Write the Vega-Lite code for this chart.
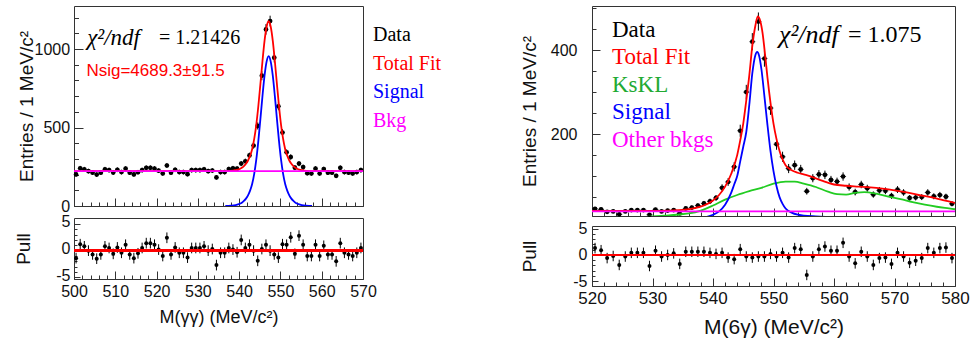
{
"$schema": "https://vega.github.io/schema/vega-lite/v6.json",
"background": "white",
"padding": {"left": 14, "top": 5, "right": 0, "bottom": 0},
"config": {
  "view": {"stroke": "#333333", "strokeWidth": 1},
  "font": "Liberation Sans",
  "axis": {"domain": false, "grid": false, "tickColor": "#333333", "tickWidth": 1, "labelFont": "Liberation Sans", "labelColor": "#111111", "titleFont": "Liberation Sans", "titleFontWeight": "normal", "titleColor": "#111111", "labelFlush": false, "labelOverlap": false, "labelBound": false},
  "legend": {"labelFont": "Liberation Serif"}
},
"datasets": {
  "leftData": [
    {"x":500.5,"y":201,"e":14.2},{"x":501.5,"y":240,"e":15.5},{"x":502.5,"y":234,"e":15.3},{"x":503.5,"y":222,"e":14.9},{"x":504.5,"y":212,"e":14.6},
    {"x":505.5,"y":200,"e":14.1},{"x":506.5,"y":212,"e":14.6},{"x":507.5,"y":234,"e":15.3},{"x":508.5,"y":229,"e":15.1},{"x":509.5,"y":213,"e":14.6},
    {"x":510.5,"y":231,"e":15.2},{"x":511.5,"y":216,"e":14.7},{"x":512.5,"y":238,"e":15.4},{"x":513.5,"y":212,"e":14.6},{"x":514.5,"y":201,"e":14.2},
    {"x":515.5,"y":215,"e":14.7},{"x":516.5,"y":229,"e":15.1},{"x":517.5,"y":243,"e":15.6},{"x":518.5,"y":243,"e":15.6},{"x":519.5,"y":238,"e":15.4},
    {"x":520.5,"y":225,"e":15.0},{"x":521.5,"y":207,"e":14.4},{"x":522.5,"y":258,"e":16.1},{"x":523.5,"y":212,"e":14.6},{"x":524.5,"y":231,"e":15.2},
    {"x":525.5,"y":216,"e":14.7},{"x":526.5,"y":216,"e":14.7},{"x":527.5,"y":203,"e":14.2},{"x":528.5,"y":229,"e":15.1},{"x":529.5,"y":229,"e":15.1},
    {"x":530.5,"y":229,"e":15.1},{"x":531.5,"y":234,"e":15.3},{"x":532.5,"y":222,"e":14.9},{"x":533.5,"y":226,"e":15.0},{"x":534.5,"y":182,"e":13.5},
    {"x":535.5,"y":216,"e":14.7},{"x":536.5,"y":216,"e":14.7},{"x":537.5,"y":235,"e":15.3},{"x":538.5,"y":240,"e":15.5},{"x":539.5,"y":238,"e":15.4},
    {"x":540.5,"y":270,"e":16.4},{"x":541.5,"y":285,"e":16.9},{"x":542.5,"y":322,"e":17.9},{"x":543.5,"y":385,"e":19.6},{"x":544.5,"y":510,"e":22.6},
    {"x":545.5,"y":830,"e":28.8},{"x":546.5,"y":1125,"e":33.5},{"x":547.5,"y":1178,"e":34.3},{"x":548.5,"y":945,"e":30.7},{"x":549.5,"y":635,"e":25.2},
    {"x":550.5,"y":468,"e":21.6},{"x":551.5,"y":342,"e":18.5},{"x":552.5,"y":312,"e":17.7},{"x":553.5,"y":244,"e":15.6},{"x":554.5,"y":270,"e":16.4},
    {"x":555.5,"y":248,"e":15.7},{"x":556.5,"y":209,"e":14.5},{"x":557.5,"y":207,"e":14.4},{"x":558.5,"y":238,"e":15.4},{"x":559.5,"y":207,"e":14.4},
    {"x":560.5,"y":235,"e":15.3},{"x":561.5,"y":212,"e":14.6},{"x":562.5,"y":212,"e":14.6},{"x":563.5,"y":192,"e":13.9},{"x":564.5,"y":243,"e":15.6},
    {"x":565.5,"y":216,"e":14.7},{"x":566.5,"y":212,"e":14.6},{"x":567.5,"y":207,"e":14.4},{"x":568.5,"y":216,"e":14.7},{"x":569.5,"y":229,"e":15.1}
  ],
  "leftPull": [
    {"x":500.5,"y":-1.4,"e":1},{"x":501.5,"y":1.2,"e":1},{"x":502.5,"y":0.8,"e":1},{"x":503.5,"y":0,"e":1},{"x":504.5,"y":-0.7,"e":1},
    {"x":505.5,"y":-1.5,"e":1},{"x":506.5,"y":-0.7,"e":1},{"x":507.5,"y":0.8,"e":1},{"x":508.5,"y":0.5,"e":1},{"x":509.5,"y":-0.6,"e":1},
    {"x":510.5,"y":0.6,"e":1},{"x":511.5,"y":-0.4,"e":1},{"x":512.5,"y":1.1,"e":1},{"x":513.5,"y":-0.7,"e":1},{"x":514.5,"y":-1.4,"e":1},
    {"x":515.5,"y":-0.5,"e":1},{"x":516.5,"y":0.5,"e":1},{"x":517.5,"y":1.4,"e":1},{"x":518.5,"y":1.4,"e":1},{"x":519.5,"y":1.1,"e":1},
    {"x":520.5,"y":0.2,"e":1},{"x":521.5,"y":-1.0,"e":1},{"x":522.5,"y":2.4,"e":1},{"x":523.5,"y":-0.7,"e":1},{"x":524.5,"y":0.6,"e":1},
    {"x":525.5,"y":-0.4,"e":1},{"x":526.5,"y":-0.4,"e":1},{"x":527.5,"y":-1.3,"e":1},{"x":528.5,"y":0.5,"e":1},{"x":529.5,"y":0.5,"e":1},
    {"x":530.5,"y":0.5,"e":1},{"x":531.5,"y":0.8,"e":1},{"x":532.5,"y":0,"e":1},{"x":533.5,"y":0.3,"e":1},{"x":534.5,"y":-2.7,"e":1},
    {"x":535.5,"y":-0.4,"e":1},{"x":536.5,"y":-0.4,"e":1},{"x":537.5,"y":0.5,"e":1},{"x":538.5,"y":0.2,"e":1},{"x":539.5,"y":-0.3,"e":1},
    {"x":540.5,"y":2.0,"e":1},{"x":541.5,"y":0.5,"e":1},{"x":542.5,"y":1.1,"e":1},{"x":543.5,"y":0,"e":1},{"x":544.5,"y":-1.9,"e":1},
    {"x":545.5,"y":0.3,"e":1},{"x":546.5,"y":1.1,"e":1},{"x":547.5,"y":0,"e":1},{"x":548.5,"y":-0.7,"e":1},{"x":549.5,"y":-1.3,"e":1},
    {"x":550.5,"y":1.2,"e":1},{"x":551.5,"y":1.1,"e":1},{"x":552.5,"y":2.5,"e":1},{"x":553.5,"y":-0.6,"e":1},{"x":554.5,"y":2.8,"e":1},
    {"x":555.5,"y":1.1,"e":1},{"x":556.5,"y":-1.0,"e":1},{"x":557.5,"y":-1.0,"e":1},{"x":558.5,"y":1.1,"e":1},{"x":559.5,"y":-1.0,"e":1},
    {"x":560.5,"y":0.9,"e":1},{"x":561.5,"y":-0.7,"e":1},{"x":562.5,"y":-0.7,"e":1},{"x":563.5,"y":-2.0,"e":1},{"x":564.5,"y":1.4,"e":1},
    {"x":565.5,"y":-0.4,"e":1},{"x":566.5,"y":-0.7,"e":1},{"x":567.5,"y":-1.0,"e":1},{"x":568.5,"y":-0.4,"e":1},{"x":569.5,"y":0.5,"e":1}
  ],
  "leftCurves": [
    {"x":500,"y":222,"series":"Total Fit"},{"x":536.65,"y":222,"series":"Total Fit"},{"x":537.15,"y":222.5,"series":"Total Fit"},{"x":538.15,"y":224,"series":"Total Fit"},
    {"x":539.15,"y":228,"series":"Total Fit"},{"x":540.15,"y":236,"series":"Total Fit"},{"x":540.65,"y":243,"series":"Total Fit"},{"x":541.15,"y":254,"series":"Total Fit"},
    {"x":541.65,"y":269,"series":"Total Fit"},{"x":542.15,"y":290,"series":"Total Fit"},{"x":542.65,"y":320,"series":"Total Fit"},{"x":543.15,"y":362,"series":"Total Fit"},
    {"x":543.65,"y":427,"series":"Total Fit"},{"x":544.15,"y":517,"series":"Total Fit"},{"x":544.65,"y":637,"series":"Total Fit"},{"x":545.15,"y":777,"series":"Total Fit"},
    {"x":545.65,"y":922,"series":"Total Fit"},{"x":546.15,"y":1052,"series":"Total Fit"},{"x":546.65,"y":1142,"series":"Total Fit"},{"x":547.15,"y":1177,"series":"Total Fit"},
    {"x":547.65,"y":1142,"series":"Total Fit"},{"x":548.15,"y":1052,"series":"Total Fit"},{"x":548.65,"y":922,"series":"Total Fit"},{"x":549.15,"y":777,"series":"Total Fit"},
    {"x":549.65,"y":637,"series":"Total Fit"},{"x":550.15,"y":517,"series":"Total Fit"},{"x":550.65,"y":427,"series":"Total Fit"},{"x":551.15,"y":362,"series":"Total Fit"},
    {"x":551.65,"y":320,"series":"Total Fit"},{"x":552.15,"y":290,"series":"Total Fit"},{"x":552.65,"y":269,"series":"Total Fit"},{"x":553.15,"y":254,"series":"Total Fit"},
    {"x":553.65,"y":243,"series":"Total Fit"},{"x":554.15,"y":236,"series":"Total Fit"},{"x":555.15,"y":228,"series":"Total Fit"},{"x":556.15,"y":224,"series":"Total Fit"},
    {"x":557.15,"y":222.5,"series":"Total Fit"},{"x":557.65,"y":222,"series":"Total Fit"},{"x":570,"y":222,"series":"Total Fit"},
    {"x":536.65,"y":0,"series":"Signal"},{"x":537.15,"y":0.5,"series":"Signal"},{"x":538.15,"y":2,"series":"Signal"},{"x":539.15,"y":6,"series":"Signal"},
    {"x":540.15,"y":14,"series":"Signal"},{"x":540.65,"y":21,"series":"Signal"},{"x":541.15,"y":32,"series":"Signal"},{"x":541.65,"y":47,"series":"Signal"},
    {"x":542.15,"y":68,"series":"Signal"},{"x":542.65,"y":98,"series":"Signal"},{"x":543.15,"y":140,"series":"Signal"},{"x":543.65,"y":205,"series":"Signal"},
    {"x":544.15,"y":295,"series":"Signal"},{"x":544.65,"y":415,"series":"Signal"},{"x":545.15,"y":555,"series":"Signal"},{"x":545.65,"y":700,"series":"Signal"},
    {"x":546.15,"y":830,"series":"Signal"},{"x":546.65,"y":920,"series":"Signal"},{"x":547.15,"y":955,"series":"Signal"},{"x":547.65,"y":920,"series":"Signal"},
    {"x":548.15,"y":830,"series":"Signal"},{"x":548.65,"y":700,"series":"Signal"},{"x":549.15,"y":555,"series":"Signal"},{"x":549.65,"y":415,"series":"Signal"},
    {"x":550.15,"y":295,"series":"Signal"},{"x":550.65,"y":205,"series":"Signal"},{"x":551.15,"y":140,"series":"Signal"},{"x":551.65,"y":98,"series":"Signal"},
    {"x":552.15,"y":68,"series":"Signal"},{"x":552.65,"y":47,"series":"Signal"},{"x":553.15,"y":32,"series":"Signal"},{"x":553.65,"y":21,"series":"Signal"},
    {"x":554.15,"y":14,"series":"Signal"},{"x":555.15,"y":6,"series":"Signal"},{"x":556.15,"y":2,"series":"Signal"},{"x":557.15,"y":0.5,"series":"Signal"},
    {"x":557.65,"y":0,"series":"Signal"},
    {"x":500,"y":222,"series":"Bkg"},{"x":570,"y":222,"series":"Bkg"}
  ],
  "rightData": [
    {"x":520.5,"y":22,"e":4.7},{"x":521.5,"y":21,"e":4.6},{"x":522.5,"y":15,"e":3.9},{"x":523.5,"y":16,"e":4.0},{"x":524.5,"y":9,"e":3.0},
    {"x":525.5,"y":16,"e":4.0},{"x":526.5,"y":19,"e":4.4},{"x":527.5,"y":19,"e":4.4},{"x":528.5,"y":19,"e":4.4},{"x":529.5,"y":8,"e":2.8},
    {"x":530.5,"y":20,"e":4.5},{"x":531.5,"y":16,"e":4.0},{"x":532.5,"y":18,"e":4.2},{"x":533.5,"y":19,"e":4.4},{"x":534.5,"y":11,"e":3.3},
    {"x":535.5,"y":23,"e":4.8},{"x":536.5,"y":25,"e":5.0},{"x":537.5,"y":30,"e":5.5},{"x":538.5,"y":35,"e":5.9},{"x":539.5,"y":40,"e":6.3},
    {"x":540.5,"y":48,"e":6.9},{"x":541.5,"y":72,"e":8.5},{"x":542.5,"y":86,"e":9.3},{"x":543.5,"y":122,"e":11.0},{"x":544.5,"y":208,"e":14.4},
    {"x":545.5,"y":300,"e":17.3},{"x":546.5,"y":420,"e":20.5},{"x":547.5,"y":468,"e":21.6},{"x":548.5,"y":380,"e":19.5},{"x":549.5,"y":262,"e":16.2},
    {"x":550.5,"y":176,"e":13.3},{"x":551.5,"y":146,"e":12.1},{"x":552.5,"y":118,"e":10.9},{"x":553.5,"y":126,"e":11.2},{"x":554.5,"y":116,"e":10.8},
    {"x":555.5,"y":64,"e":8.0},{"x":556.5,"y":95,"e":9.7},{"x":557.5,"y":104,"e":10.2},{"x":558.5,"y":103,"e":10.1},{"x":559.5,"y":91,"e":9.5},
    {"x":560.5,"y":87,"e":9.3},{"x":561.5,"y":99,"e":9.9},{"x":562.5,"y":74,"e":8.6},{"x":563.5,"y":62,"e":7.9},{"x":564.5,"y":80,"e":8.9},
    {"x":565.5,"y":71,"e":8.4},{"x":566.5,"y":56,"e":7.5},{"x":567.5,"y":66,"e":8.1},{"x":568.5,"y":65,"e":8.1},{"x":569.5,"y":53,"e":7.3},
    {"x":570.5,"y":68,"e":8.2},{"x":571.5,"y":61,"e":7.8},{"x":572.5,"y":48,"e":6.9},{"x":573.5,"y":49,"e":7.0},{"x":574.5,"y":50,"e":7.1},
    {"x":575.5,"y":61,"e":7.8},{"x":576.5,"y":52,"e":7.2},{"x":577.5,"y":55,"e":7.4},{"x":578.5,"y":51,"e":7.1},{"x":579.5,"y":34,"e":5.8}
  ],
  "rightPull": [
    {"x":520.5,"y":1.3,"e":1},{"x":521.5,"y":0.9,"e":1},{"x":522.5,"y":-0.6,"e":1},{"x":523.5,"y":-0.2,"e":1},{"x":524.5,"y":-1.9,"e":1},
    {"x":525.5,"y":-0.3,"e":1},{"x":526.5,"y":0.4,"e":1},{"x":527.5,"y":0.4,"e":1},{"x":528.5,"y":0.4,"e":1},{"x":529.5,"y":-2.1,"e":1},
    {"x":530.5,"y":0.8,"e":1},{"x":531.5,"y":-0.3,"e":1},{"x":532.5,"y":0,"e":1},{"x":533.5,"y":0.3,"e":1},{"x":534.5,"y":-1.7,"e":1},
    {"x":535.5,"y":0.6,"e":1},{"x":536.5,"y":0.6,"e":1},{"x":537.5,"y":0.6,"e":1},{"x":538.5,"y":0.6,"e":1},{"x":539.5,"y":0.4,"e":1},
    {"x":540.5,"y":0.2,"e":1},{"x":541.5,"y":0.4,"e":1},{"x":542.5,"y":-0.5,"e":1},{"x":543.5,"y":-0.8,"e":1},{"x":544.5,"y":1.1,"e":1},
    {"x":545.5,"y":-0.3,"e":1},{"x":546.5,"y":-0.5,"e":1},{"x":547.5,"y":-0.3,"e":1},{"x":548.5,"y":-0.3,"e":1},{"x":549.5,"y":0.2,"e":1},
    {"x":550.5,"y":-0.3,"e":1},{"x":551.5,"y":0.4,"e":1},{"x":552.5,"y":-0.5,"e":1},{"x":553.5,"y":1.3,"e":1},{"x":554.5,"y":1.1,"e":1},
    {"x":555.5,"y":-3.8,"e":1},{"x":556.5,"y":-0.3,"e":1},{"x":557.5,"y":1.1,"e":1},{"x":558.5,"y":1.6,"e":1},{"x":559.5,"y":0.8,"e":1},
    {"x":560.5,"y":0.8,"e":1},{"x":561.5,"y":2.3,"e":1},{"x":562.5,"y":-0.3,"e":1},{"x":563.5,"y":-1.6,"e":1},{"x":564.5,"y":0.6,"e":1},
    {"x":565.5,"y":-0.3,"e":1},{"x":566.5,"y":-1.9,"e":1},{"x":567.5,"y":-0.6,"e":1},{"x":568.5,"y":-0.5,"e":1},{"x":569.5,"y":-1.7,"e":1},
    {"x":570.5,"y":0.4,"e":1},{"x":571.5,"y":-0.3,"e":1},{"x":572.5,"y":-1.5,"e":1},{"x":573.5,"y":-1.1,"e":1},{"x":574.5,"y":-0.6,"e":1},
    {"x":575.5,"y":1.3,"e":1},{"x":576.5,"y":0.4,"e":1},{"x":577.5,"y":1.3,"e":1},{"x":578.5,"y":1.4,"e":1},{"x":579.5,"y":-0.6,"e":1}
  ],
  "rightCurves": [
    {"x":520,"y":17,"series":"Total Fit"},{"x":530,"y":17,"series":"Total Fit"},{"x":533,"y":18,"series":"Total Fit"},{"x":535,"y":19.5,"series":"Total Fit"},
    {"x":537,"y":24,"series":"Total Fit"},{"x":538.5,"y":30,"series":"Total Fit"},{"x":540,"y":42,"series":"Total Fit"},{"x":541,"y":55,"series":"Total Fit"},
    {"x":542,"y":75,"series":"Total Fit"},{"x":543,"y":105,"series":"Total Fit"},{"x":544,"y":150,"series":"Total Fit"},{"x":544.5,"y":185,"series":"Total Fit"},
    {"x":545,"y":225,"series":"Total Fit"},{"x":545.5,"y":280,"series":"Total Fit"},{"x":546,"y":340,"series":"Total Fit"},{"x":546.5,"y":410,"series":"Total Fit"},
    {"x":547,"y":458,"series":"Total Fit"},{"x":547.4,"y":480,"series":"Total Fit"},{"x":547.8,"y":470,"series":"Total Fit"},{"x":548.2,"y":440,"series":"Total Fit"},
    {"x":548.6,"y":390,"series":"Total Fit"},{"x":549,"y":335,"series":"Total Fit"},{"x":549.5,"y":275,"series":"Total Fit"},{"x":550,"y":225,"series":"Total Fit"},
    {"x":550.5,"y":188,"series":"Total Fit"},{"x":551,"y":160,"series":"Total Fit"},{"x":551.5,"y":140,"series":"Total Fit"},{"x":552,"y":126,"series":"Total Fit"},
    {"x":553,"y":114,"series":"Total Fit"},{"x":554,"y":108,"series":"Total Fit"},{"x":555,"y":104,"series":"Total Fit"},{"x":556,"y":100,"series":"Total Fit"},
    {"x":558,"y":89,"series":"Total Fit"},{"x":560,"y":80,"series":"Total Fit"},{"x":562,"y":77,"series":"Total Fit"},{"x":564,"y":75,"series":"Total Fit"},
    {"x":566,"y":73,"series":"Total Fit"},{"x":568,"y":70,"series":"Total Fit"},{"x":570,"y":66,"series":"Total Fit"},{"x":572,"y":61,"series":"Total Fit"},
    {"x":574,"y":55,"series":"Total Fit"},{"x":576,"y":50,"series":"Total Fit"},{"x":578,"y":43,"series":"Total Fit"},{"x":580,"y":36,"series":"Total Fit"},
    {"x":527,"y":0,"series":"KsKL"},{"x":530,"y":4,"series":"KsKL"},{"x":532,"y":6,"series":"KsKL"},{"x":534,"y":8,"series":"KsKL"},
    {"x":536,"y":11,"series":"KsKL"},{"x":538,"y":18,"series":"KsKL"},{"x":540,"y":30,"series":"KsKL"},{"x":542,"y":44,"series":"KsKL"},
    {"x":544,"y":55,"series":"KsKL"},{"x":546,"y":64,"series":"KsKL"},{"x":548,"y":72,"series":"KsKL"},{"x":550,"y":82,"series":"KsKL"},
    {"x":552,"y":87,"series":"KsKL"},{"x":553.5,"y":87,"series":"KsKL"},{"x":555,"y":82,"series":"KsKL"},{"x":557,"y":74,"series":"KsKL"},
    {"x":559,"y":63,"series":"KsKL"},{"x":560.5,"y":57,"series":"KsKL"},{"x":562,"y":56,"series":"KsKL"},{"x":563.5,"y":60,"series":"KsKL"},
    {"x":565,"y":62,"series":"KsKL"},{"x":567,"y":58,"series":"KsKL"},{"x":569,"y":51,"series":"KsKL"},{"x":571,"y":45,"series":"KsKL"},
    {"x":573,"y":38,"series":"KsKL"},{"x":575,"y":32,"series":"KsKL"},{"x":577,"y":27,"series":"KsKL"},{"x":579,"y":23,"series":"KsKL"},
    {"x":580,"y":21,"series":"KsKL"},
    {"x":537.5,"y":0,"series":"Signal"},{"x":539,"y":3,"series":"Signal"},{"x":540,"y":8,"series":"Signal"},{"x":541,"y":16,"series":"Signal"},
    {"x":542,"y":32,"series":"Signal"},{"x":543,"y":60,"series":"Signal"},{"x":543.5,"y":80,"series":"Signal"},{"x":544,"y":100,"series":"Signal"},
    {"x":544.5,"y":135,"series":"Signal"},{"x":545,"y":170,"series":"Signal"},{"x":545.5,"y":205,"series":"Signal"},{"x":546,"y":270,"series":"Signal"},
    {"x":546.5,"y":345,"series":"Signal"},{"x":547,"y":388,"series":"Signal"},{"x":547.3,"y":396,"series":"Signal"},{"x":547.6,"y":388,"series":"Signal"},
    {"x":548,"y":355,"series":"Signal"},{"x":548.5,"y":290,"series":"Signal"},{"x":549,"y":222,"series":"Signal"},{"x":549.5,"y":160,"series":"Signal"},
    {"x":550,"y":112,"series":"Signal"},{"x":550.5,"y":76,"series":"Signal"},{"x":551,"y":50,"series":"Signal"},{"x":551.5,"y":34,"series":"Signal"},
    {"x":552,"y":23,"series":"Signal"},{"x":553,"y":13,"series":"Signal"},{"x":554,"y":8,"series":"Signal"},{"x":555,"y":6,"series":"Signal"},
    {"x":557,"y":4,"series":"Signal"},{"x":560,"y":2,"series":"Signal"},{"x":562.5,"y":0,"series":"Signal"},
    {"x":520,"y":16,"series":"Other bkgs"},{"x":580,"y":16,"series":"Other bkgs"}
  ]
},
"hconcat": [
  {
    "vconcat": [
      {
        "width": 289, "height": 200,
        "resolve": {"axis": {"x": "independent", "y": "independent"}},
        "layer": [
          {"data": {"name": "leftData"}, "mark": {"type": "errorbar", "color": "black", "thickness": 1},
           "encoding": {
             "x": {"field": "x", "type": "quantitative", "scale": {"domain": [500, 570], "nice": false, "zero": false},
                   "axis": {"orient": "bottom", "title": null, "labels": false, "tickSize": -4,
                            "values": [500,502,504,506,508,510,512,514,516,518,520,522,524,526,528,530,532,534,536,538,540,542,544,546,548,550,552,554,556,558,560,562,564,566,568,570]}},
             "y": {"field": "y", "type": "quantitative", "scale": {"domain": [0, 1274], "nice": false, "zero": false},
                   "axis": {"orient": "left", "title": null, "labels": false, "tickSize": -4.5, "values": [0,100,200,300,400,500,600,700,800,900,1000,1100,1200]}},
             "yError": {"field": "e"}}},
          {"data": {"name": "leftData"}, "mark": {"type": "circle", "size": 22, "opacity": 1},
           "encoding": {
             "x": {"field": "x", "type": "quantitative",
                   "axis": {"orient": "bottom", "title": null, "labels": false, "tickSize": -8, "values": [500,510,520,530,540,550,560,570]}},
             "y": {"field": "y", "type": "quantitative",
                   "axis": {"orient": "left", "title": "Entries / 1 MeV/c²", "titleFontSize": 19, "titlePadding": -2, "labelFontSize": 16, "labelPadding": 13.4, "labelOverlap": false, "labelFlush": false, "labelBound": false,
                            "tickSize": -9, "values": [0, 500, 1000], "labelExpr": "'' + datum.value"}},
             "color": {"datum": "Data", "type": "nominal",
             "scale": {"domain": ["Data", "Total Fit", "Signal", "Bkg"], "range": ["#000000", "#ff0000", "#0000ff", "#ff00ff"]},
             "legend": {"title": null, "orient": "right", "offset": -43, "padding": 19, "symbolType": "circle", "symbolSize": 0, "symbolStrokeWidth": 0, "symbolOpacity": 0, "labelOffset": 0, "labelFont": "Liberation Serif", "labelFontSize": 20, "labelLimit": 400, "rowPadding": 8.5,
               "encoding": {"labels": {"fill": {"condition": [{"test": "datum.label === 'Total Fit'", "value": "#ff0000"}, {"test": "datum.label === 'Signal'", "value": "#0000ff"}, {"test": "datum.label === 'Bkg'", "value": "#ff00ff"}], "value": "#000000"}}}}}}},
          {"data": {"name": "leftData"}, "mark": {"type": "tick", "orient": "horizontal", "size": 4, "thickness": 1, "color": "black"},
           "encoding": {"x": {"field": "x", "type": "quantitative", "axis": null}, "y": {"field": "y", "type": "quantitative", "axis": null}}},
          {"data": {"name": "leftCurves"}, "mark": {"type": "line", "strokeWidth": 1.8, "interpolate": "monotone", "clip": true},
           "encoding": {"x": {"field": "x", "type": "quantitative", "axis": null}, "y": {"field": "y", "type": "quantitative", "axis": null},
             "color": {"field": "series", "type": "nominal",
             "scale": {"domain": ["Data", "Total Fit", "Signal", "Bkg"], "range": ["#000000", "#ff0000", "#0000ff", "#ff00ff"]},
             "legend": {"title": null, "orient": "right", "offset": -43, "padding": 19, "symbolType": "circle", "symbolSize": 0, "symbolStrokeWidth": 0, "symbolOpacity": 0, "labelOffset": 0, "labelFont": "Liberation Serif", "labelFontSize": 20, "labelLimit": 400, "rowPadding": 8.5,
               "encoding": {"labels": {"fill": {"condition": [{"test": "datum.label === 'Total Fit'", "value": "#ff0000"}, {"test": "datum.label === 'Signal'", "value": "#0000ff"}, {"test": "datum.label === 'Bkg'", "value": "#ff00ff"}], "value": "#000000"}}}}}}},
          {"data": {"values": [{"label": "χ²/ndf"}]}, "mark": {"type": "text", "font": "Liberation Serif", "fontStyle": "italic", "fontSize": 23, "align": "left", "baseline": "middle", "color": "#000000"},
           "encoding": {"x": {"datum": 503.2, "axis": null}, "y": {"datum": 1070, "axis": null}, "text": {"field": "label"}}},
          {"data": {"values": [{"label": "= 1.21426"}]}, "mark": {"type": "text", "font": "Liberation Serif", "fontSize": 20, "align": "left", "baseline": "middle", "color": "#000000"},
           "encoding": {"x": {"datum": 520.6, "axis": null}, "y": {"datum": 1070, "axis": null}, "text": {"field": "label"}}},
          {"data": {"values": [{"label": "Nsig=4689.3±91.5"}]}, "mark": {"type": "text", "font": "Liberation Sans", "fontSize": 17, "align": "left", "baseline": "middle", "color": "#ff0000"},
           "encoding": {"x": {"datum": 503.0, "axis": null}, "y": {"datum": 860, "axis": null}, "text": {"field": "label"}}}
        ]
      },
      {
        "width": 289, "height": 61,
        "data": {"name": "leftPull"},
        "resolve": {"axis": {"x": "independent", "y": "independent"}},
        "layer": [
          {"mark": {"type": "errorbar", "color": "black", "thickness": 1},
           "encoding": {
             "x": {"field": "x", "type": "quantitative", "scale": {"domain": [500, 570], "nice": false, "zero": false},
                   "axis": {"orient": "bottom", "title": null, "labels": false, "tickSize": -4,
                            "values": [500,502,504,506,508,510,512,514,516,518,520,522,524,526,528,530,532,534,536,538,540,542,544,546,548,550,552,554,556,558,560,562,564,566,568,570]}},
             "y": {"field": "y", "type": "quantitative", "scale": {"domain": [-5.3, 6.1], "nice": false, "zero": false},
                   "axis": {"orient": "left", "title": null, "labels": false, "tickSize": -3, "values": [-5,-4,-3,-2,-1,0,1,2,3,4,5]}},
             "yError": {"field": "e"}}},
          {"mark": {"type": "circle", "size": 16, "color": "#000000", "opacity": 1},
           "encoding": {
             "x": {"field": "x", "type": "quantitative",
                   "axis": {"orient": "bottom", "title": "M(γγ) (MeV/c²)", "titleFontSize": 18, "titlePadding": 9, "labelFontSize": 16, "labelPadding": 12, "labelOverlap": false, "labelFlush": false, "labelBound": false,
                            "tickSize": -8, "values": [500,510,520,530,540,550,560,570], "labelExpr": "'' + datum.value"}},
             "y": {"field": "y", "type": "quantitative",
                   "axis": {"orient": "left", "title": "Pull", "titleFontSize": 19, "titlePadding": 22, "labelFontSize": 16, "labelPadding": 10, "labelOffset": -2, "labelOverlap": false, "labelFlush": false, "labelBound": false,
                            "tickSize": -6, "values": [-5, 0, 5], "labelExpr": "'' + datum.value"}}}},
          {"mark": {"type": "rule", "color": "#ff0000", "strokeWidth": 2}, "encoding": {"y": {"datum": 0, "axis": null}}}
        ]
      }
    ],
    "spacing": 12,
    "bounds": "flush",
    "resolve": {"scale": {"x": "independent", "y": "independent"}}
  },
  {
    "vconcat": [
      {
        "width": 363, "height": 210,
        "resolve": {"axis": {"x": "independent", "y": "independent"}},
        "layer": [
          {"data": {"name": "rightData"}, "mark": {"type": "errorbar", "color": "black", "thickness": 1},
           "encoding": {
             "x": {"field": "x", "type": "quantitative", "scale": {"domain": [520, 580], "nice": false, "zero": false},
                   "axis": {"orient": "bottom", "title": null, "labels": false, "tickSize": -4,
                            "values": [520,522,524,526,528,530,532,534,536,538,540,542,544,546,548,550,552,554,556,558,560,562,564,566,568,570,572,574,576,578,580]}},
             "y": {"field": "y", "type": "quantitative", "scale": {"domain": [5, 505], "nice": false, "zero": false},
                   "axis": {"orient": "left", "title": null, "labels": false, "tickSize": -4, "values": [50,100,150,200,250,300,350,400,450,500]}},
             "yError": {"field": "e"}}},
          {"data": {"name": "rightData"}, "mark": {"type": "circle", "size": 22, "opacity": 1},
           "encoding": {
             "x": {"field": "x", "type": "quantitative",
                   "axis": {"orient": "bottom", "title": null, "labels": false, "tickSize": -8, "values": [520,530,540,550,560,570,580]}},
             "y": {"field": "y", "type": "quantitative",
                   "axis": {"orient": "left", "title": "Entries / 1 MeV/c²", "titleFontSize": 19, "titlePadding": 10.6, "labelFontSize": 16, "labelPadding": 23, "labelOverlap": false, "labelFlush": false, "labelBound": false,
                            "tickSize": -8, "values": [200, 400], "labelExpr": "'' + datum.value"}},
             "color": {"datum": "Data", "type": "nominal",
             "scale": {"domain": ["Data", "Total Fit", "KsKL", "Signal", "Other bkgs"], "range": ["#000000", "#ff0000", "#22cc22", "#0000ff", "#ff00ff"]},
             "legend": {"title": null, "orient": "top-left", "offset": 12, "padding": 0, "symbolType": "circle", "symbolSize": 0, "symbolStrokeWidth": 0, "symbolOpacity": 0, "labelOffset": -15, "labelFont": "Liberation Serif", "labelFontSize": 23, "labelLimit": 400, "rowPadding": 3.5,
               "encoding": {"labels": {"fill": {"condition": [{"test": "datum.label === 'Total Fit'", "value": "#ff0000"}, {"test": "datum.label === 'KsKL'", "value": "#22aa33"}, {"test": "datum.label === 'Signal'", "value": "#0000ff"}, {"test": "datum.label === 'Other bkgs'", "value": "#ff00ff"}], "value": "#000000"}}}}}}},
          {"data": {"name": "rightData"}, "mark": {"type": "tick", "orient": "horizontal", "size": 6, "thickness": 1, "color": "black"},
           "encoding": {"x": {"field": "x", "type": "quantitative", "axis": null}, "y": {"field": "y", "type": "quantitative", "axis": null}}},
          {"data": {"name": "rightCurves"}, "mark": {"type": "line", "strokeWidth": 1.8, "interpolate": "monotone", "clip": true},
           "encoding": {"x": {"field": "x", "type": "quantitative", "axis": null}, "y": {"field": "y", "type": "quantitative", "axis": null},
             "color": {"field": "series", "type": "nominal",
             "scale": {"domain": ["Data", "Total Fit", "KsKL", "Signal", "Other bkgs"], "range": ["#000000", "#ff0000", "#22cc22", "#0000ff", "#ff00ff"]},
             "legend": {"title": null, "orient": "top-left", "offset": 12, "padding": 0, "symbolType": "circle", "symbolSize": 0, "symbolStrokeWidth": 0, "symbolOpacity": 0, "labelOffset": -15, "labelFont": "Liberation Serif", "labelFontSize": 23, "labelLimit": 400, "rowPadding": 3.5,
               "encoding": {"labels": {"fill": {"condition": [{"test": "datum.label === 'Total Fit'", "value": "#ff0000"}, {"test": "datum.label === 'KsKL'", "value": "#22aa33"}, {"test": "datum.label === 'Signal'", "value": "#0000ff"}, {"test": "datum.label === 'Other bkgs'", "value": "#ff00ff"}], "value": "#000000"}}}}}}},
          {"data": {"values": [{"label": "χ²/ndf"}]}, "mark": {"type": "text", "font": "Liberation Serif", "fontStyle": "italic", "fontSize": 26, "align": "left", "baseline": "middle", "color": "#000000"},
           "encoding": {"x": {"datum": 550.9, "axis": null}, "y": {"datum": 436, "axis": null}, "text": {"field": "label"}}},
          {"data": {"values": [{"label": "= 1.075"}]}, "mark": {"type": "text", "font": "Liberation Serif", "fontSize": 24, "align": "left", "baseline": "middle", "color": "#000000"},
           "encoding": {"x": {"datum": 562.3, "axis": null}, "y": {"datum": 436, "axis": null}, "text": {"field": "label"}}}
        ]
      },
      {
        "width": 363, "height": 60,
        "data": {"name": "rightPull"},
        "resolve": {"axis": {"x": "independent", "y": "independent"}},
        "layer": [
          {"mark": {"type": "errorbar", "color": "black", "thickness": 1},
           "encoding": {
             "x": {"field": "x", "type": "quantitative", "scale": {"domain": [520, 580], "nice": false, "zero": false},
                   "axis": {"orient": "bottom", "title": null, "labels": false, "tickSize": -4,
                            "values": [520,522,524,526,528,530,532,534,536,538,540,542,544,546,548,550,552,554,556,558,560,562,564,566,568,570,572,574,576,578,580]}},
             "y": {"field": "y", "type": "quantitative", "scale": {"domain": [-5.9, 5.5], "nice": false, "zero": false},
                   "axis": {"orient": "left", "title": null, "labels": false, "tickSize": -3, "values": [-5,-4,-3,-2,-1,0,1,2,3,4,5]}},
             "yError": {"field": "e"}}},
          {"mark": {"type": "circle", "size": 16, "color": "#000000", "opacity": 1},
           "encoding": {
             "x": {"field": "x", "type": "quantitative",
                   "axis": {"orient": "bottom", "title": "M(6γ) (MeV/c²)", "titleFontSize": 21, "titlePadding": 10, "labelFontSize": 17, "labelPadding": 12, "labelOverlap": false, "labelFlush": false, "labelBound": false,
                            "tickSize": -8, "values": [520,530,540,550,560,570,580], "labelExpr": "'' + datum.value"}},
             "y": {"field": "y", "type": "quantitative",
                   "axis": {"orient": "left", "title": "Pull", "titleFontSize": 19, "titlePadding": 33, "labelFontSize": 16, "labelPadding": 11, "labelOverlap": false, "labelFlush": false, "labelBound": false,
                            "tickSize": -6, "values": [-5, 0, 5], "labelExpr": "'' + datum.value"}}}},
          {"mark": {"type": "rule", "color": "#ff0000", "strokeWidth": 2}, "encoding": {"y": {"datum": 0, "axis": null}}}
        ]
      }
    ],
    "spacing": 10,
    "bounds": "flush",
    "resolve": {"scale": {"x": "independent", "y": "independent"}}
  }
],
"spacing": 59,
"resolve": {"scale": {"x": "independent", "y": "independent", "color": "independent"}}
}
